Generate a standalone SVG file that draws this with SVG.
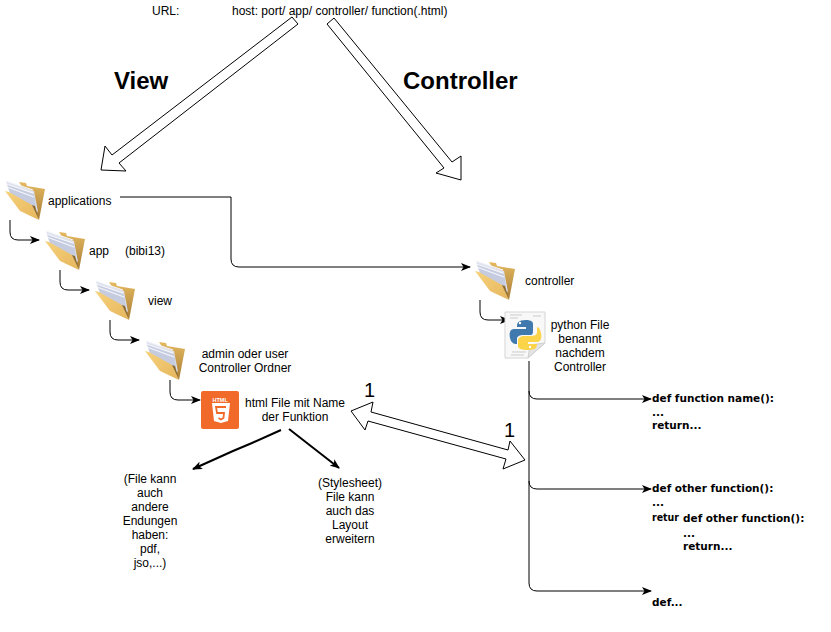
<svg xmlns="http://www.w3.org/2000/svg" width="831" height="632" viewBox="0 0 831 632">
<style>
text{font-family:"Liberation Sans",Arial,sans-serif;font-size:12px;fill:#000}
.m{text-anchor:middle}
.h{font-size:24px;font-weight:bold}
.one{font-size:20px}
.c{font-family:"DejaVu Sans",sans-serif;font-size:10.5px;font-weight:bold}
.l{fill:none;stroke:#000;stroke-width:1}
.t{fill:none;stroke:#000;stroke-width:2}
.b{fill:#fff;stroke:#000;stroke-width:1}
.code{stroke:#b9b9b9;stroke-width:.7;fill:none}
</style>
<defs>
<marker id="a" viewBox="0 0 10 8" refX="9" refY="4" markerWidth="10" markerHeight="8" markerUnits="userSpaceOnUse" orient="auto"><path d="M0 0L10 4L0 8L2.5 4Z" fill="#000"/></marker>
<linearGradient id="fg" x1="0" y1="0" x2="1" y2="1"><stop offset="0" stop-color="#f6d27c"/><stop offset="1" stop-color="#e6b65c"/></linearGradient>
<linearGradient id="fb" x1="0" y1="0" x2="0" y2="1"><stop offset="0" stop-color="#e5b95f"/><stop offset="1" stop-color="#a67c37"/></linearGradient>
<g id="folder">
<path d="M14 2L21 3L22 6L40 9L34 40L25 20Z" fill="url(#fb)"/>
<path d="M1 1L29 11L33 32L4 11Z" fill="#dfe3ee"/>
<path d="M2 4L29 14L32 33L5 13Z" fill="#c6cce0"/>
<path d="M1 1L28 10M1 4L28 13M2 7L29 17" stroke="#f5f6fb" stroke-width="1.2" fill="none"/>
<path d="M0 11L4 12L27 25L34 40L15 31Z" fill="url(#fg)"/>
<path d="M27 25L30 26L34 40Z" fill="#8f6b2e"/>
</g>
</defs>

<g id="connectors">
<path class="l" d="M10 220V232Q10 240 18 240H39" marker-end="url(#a)"/>
<path class="l" d="M60 270V282Q60 290 68 290H89" marker-end="url(#a)"/>
<path class="l" d="M110 320V332Q110 340 118 340H139" marker-end="url(#a)"/>
<path class="l" d="M170 380V392Q170 400 178 400H200" marker-end="url(#a)"/>
<path class="l" d="M120 197H231V259Q231 267 239 267H470" marker-end="url(#a)"/>
<path class="l" d="M480 300V312Q480 320 488 320H509" marker-end="url(#a)"/>
<path class="l" d="M529 361V583Q529 591 537 591H651" marker-end="url(#a)"/>
<path class="l" d="M529 391Q529 399 537 399H651" marker-end="url(#a)"/>
<path class="l" d="M529 481Q529 489 537 489H651" marker-end="url(#a)"/>
<path class="t" d="M281 430L252 443L233 451L193 469" marker-end="url(#a)"/>
<path class="t" d="M289 429L339 468" marker-end="url(#a)"/>
<path class="b" d="M292 17L298 24L119 163L126 171L101 170L105 146L112 155Z"/>
<path class="b" d="M327 24L444 168L436 173L461 180L461 156L452 162L334 18Z"/>
<path class="b" d="M351 411L373 402L371 412L508 450L510 441L525 460L503 469L506 459L368 421L365 430Z"/>
</g>

<text x="152" y="15">URL:</text>
<text x="232" y="15">host: port/ app/ controller/ function(.html)</text>
<text class="h" x="114" y="89">View</text>
<text class="h" x="403" y="89">Controller</text>

<g id="applications"><use href="#folder" x="5" y="180"/><text x="48" y="205">applications</text></g>
<g id="app"><use href="#folder" x="45" y="230"/><text x="89" y="255">app</text><text x="125" y="255">(bibi13)</text></g>
<g id="view"><use href="#folder" x="95" y="280"/><text x="148" y="305">view</text></g>
<g id="controller-folder"><use href="#folder" x="145" y="340"/><text class="m" x="245" y="358">admin oder user</text><text class="m" x="245" y="372">Controller Ordner</text></g>
<g id="html">
<rect x="201" y="391" width="38" height="38" rx="2" fill="#f26a2a"/>
<text x="212.500" y="401.500" style="font-size:5.5px;font-weight:bold;fill:#fff">HTML</text>
<path d="M212 403H230L228 421L221 423L214 421Z" fill="#fff"/>
<path d="M226 407H216L217 413H224L223.500 418L221 419.500L218.500 418" fill="none" stroke="#f26a2a" stroke-width="1.800"/>
<text class="m" x="295" y="407">html File mit Name</text><text class="m" x="295" y="421">der Funktion</text>
</g>
<g id="controller"><use href="#folder" x="475" y="260"/><text x="525" y="285">controller</text></g>
<g id="python">
<path d="M505 312H545V343L528 358H505Z" fill="#f8f8f8" stroke="#d5d5d5"/>
<path class="code" d="M510 315H522M510 318H518M512 352H526M511 355H524M533 316H541"/>
<path d="M528 358L530 345L545 343Z" fill="#e4e4e4" stroke="#cfcfcf"/>
<path d="M526 320C518 320 517 323 517 327H526V329H514C510 329 509 333 510 338C511 342 513 344 517 344V339C517 336 520 335 523 335H530C533 335 533 333 533 330V324C533 321 530 320 526 320Z" fill="#3f79ad"/>
<path d="M528 350C536 350 537 347 537 344H528V342H537C541 342 542 337 541 333C540 329 539 327 537 327V332C537 335 534 336 531 336H524C521 336 518 338 518 340V346C518 349 522 350 528 350Z" fill="#fbd44a"/>
<circle cx="520" cy="323" r="1.200" fill="#fff"/><circle cx="530" cy="347" r="1.200" fill="#fff"/>
<text class="m" x="580" y="329">python File</text><text class="m" x="580" y="343">benannt</text><text class="m" x="580" y="357">nachdem</text><text class="m" x="580" y="371">Controller</text>
</g>
<g id="left-note"><text class="m" x="150" y="483">(File kann</text><text class="m" x="150" y="497">auch</text><text class="m" x="150" y="511">andere</text><text class="m" x="150" y="525">Endungen</text><text class="m" x="150" y="539">haben:</text><text class="m" x="150" y="553">pdf,</text><text class="m" x="150" y="567">jso,...)</text></g>
<g id="right-note"><text class="m" x="350" y="487">(Stylesheet)</text><text class="m" x="350" y="501">File kann</text><text class="m" x="350" y="515">auch das</text><text class="m" x="350" y="529">Layout</text><text class="m" x="350" y="543">erweitern</text></g>
<text class="one" x="364" y="397">1</text>
<text class="one" x="504" y="437">1</text>
<g id="def1"><text class="c" x="652" y="402">def function name():</text><text class="c" x="652" y="416">...</text><text class="c" x="652" y="429">return...</text></g>
<g id="def2"><text class="c" x="652" y="492">def other function():</text><text class="c" x="652" y="506">...</text><text class="c" x="652" y="521" textLength="27" lengthAdjust="spacingAndGlyphs">retur</text></g>
<g id="def3"><text class="c" x="683" y="522">def other function():</text><text class="c" x="683" y="537">...</text><text class="c" x="683" y="550">return...</text></g>
<g id="def4"><text class="c" x="652" y="606">def...</text></g>
</svg>
